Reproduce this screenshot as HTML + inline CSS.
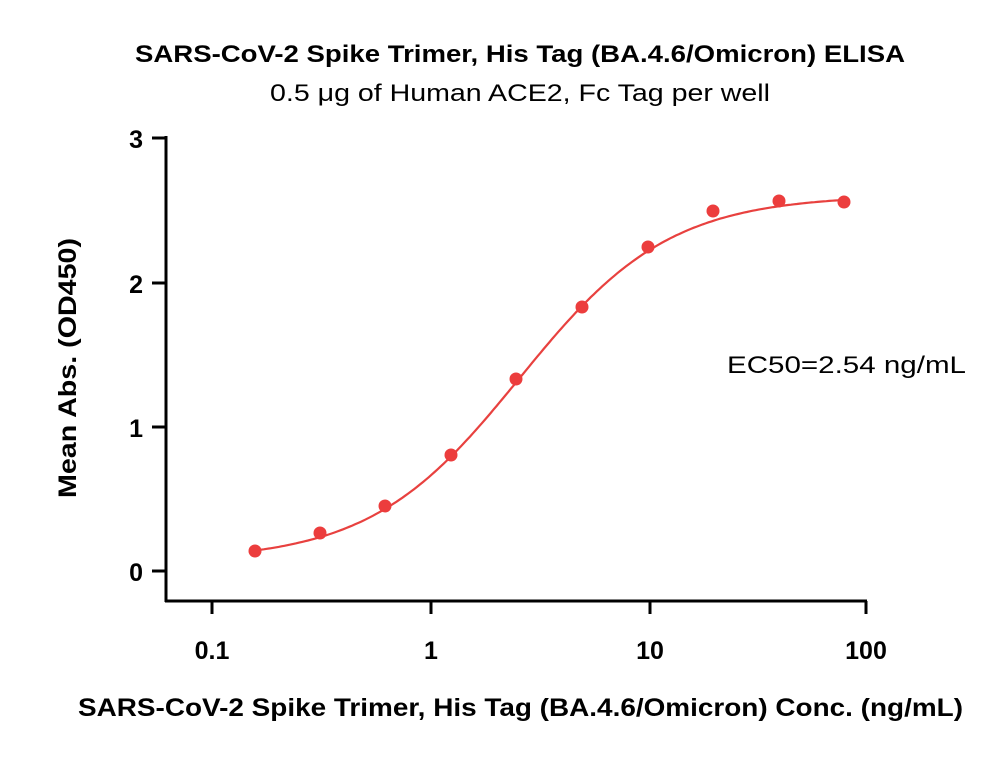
<!DOCTYPE html>
<html><head><meta charset="utf-8"><style>
body{margin:0;background:#fff}
svg{display:block}
text{font-family:"Liberation Sans",sans-serif;fill:#000}
</style></head><body>
<svg id="s" width="1000" height="759" viewBox="0 0 1000 759">
<text x="135" y="62" textLength="770" lengthAdjust="spacingAndGlyphs" font-size="24" font-weight="bold">SARS-CoV-2 Spike Trimer, His Tag (BA.4.6/Omicron) ELISA</text>
<text x="270" y="101" textLength="500" lengthAdjust="spacingAndGlyphs" font-size="24">0.5 μg of Human ACE2, Fc Tag per well</text>
<g stroke="#000" stroke-width="3" fill="none">
<line x1="166" y1="136" x2="166" y2="602"/>
<line x1="165" y1="601" x2="867" y2="601"/>
<line x1="152" y1="138" x2="166" y2="138"/>
<line x1="152" y1="283" x2="166" y2="283"/>
<line x1="152" y1="427" x2="166" y2="427"/>
<line x1="152" y1="571" x2="166" y2="571"/>
<line x1="212" y1="601" x2="212" y2="614"/>
<line x1="431" y1="601" x2="431" y2="614"/>
<line x1="650" y1="601" x2="650" y2="614"/>
<line x1="866" y1="601" x2="866" y2="614"/>
</g>
<g font-size="25" font-weight="bold" text-anchor="end">
<text x="143" y="148">3</text><text x="143" y="293">2</text><text x="143" y="437">1</text><text x="143" y="581">0</text>
</g>
<g font-size="25" font-weight="bold" text-anchor="middle">
<text x="212" y="659">0.1</text><text x="431" y="659">1</text><text x="650" y="659">10</text><text x="866" y="659">100</text>
</g>
<text transform="translate(76,498) rotate(-90)" textLength="260" lengthAdjust="spacingAndGlyphs" font-size="25" font-weight="bold">Mean Abs. (OD450)</text>
<text x="78" y="716" textLength="885" lengthAdjust="spacingAndGlyphs" font-size="25" font-weight="bold">SARS-CoV-2 Spike Trimer, His Tag (BA.4.6/Omicron) Conc. (ng/mL)</text>
<text x="727" y="373" textLength="239" lengthAdjust="spacingAndGlyphs" font-size="24">EC50=2.54 ng/mL</text>
<path id="c" fill="none" stroke="#e8413f" stroke-width="2.2"/>
<g fill="#ec3d3d">
<circle cx="255" cy="551" r="6.5"/><circle cx="320" cy="533" r="6.5"/><circle cx="385" cy="506" r="6.5"/><circle cx="451" cy="455" r="6.5"/><circle cx="516" cy="379" r="6.5"/><circle cx="582" cy="307" r="6.5"/><circle cx="648" cy="247" r="6.5"/><circle cx="713" cy="211" r="6.5"/><circle cx="779" cy="201" r="6.5"/><circle cx="844" cy="202" r="6.5"/>
</g>
</svg>
<script>
var d="";for(var i=0;i<=200;i++){var x=255+(844-255)*i/200;var c=Math.pow(10,(x-431)/219);var v=0.07+2.54/(1+Math.pow(2.54/c,1.27));var y=571-144*v;d+=(i?"L":"M")+x.toFixed(1)+" "+y.toFixed(1);}
document.getElementById("c").setAttribute("d",d);
</script>
</body></html>
